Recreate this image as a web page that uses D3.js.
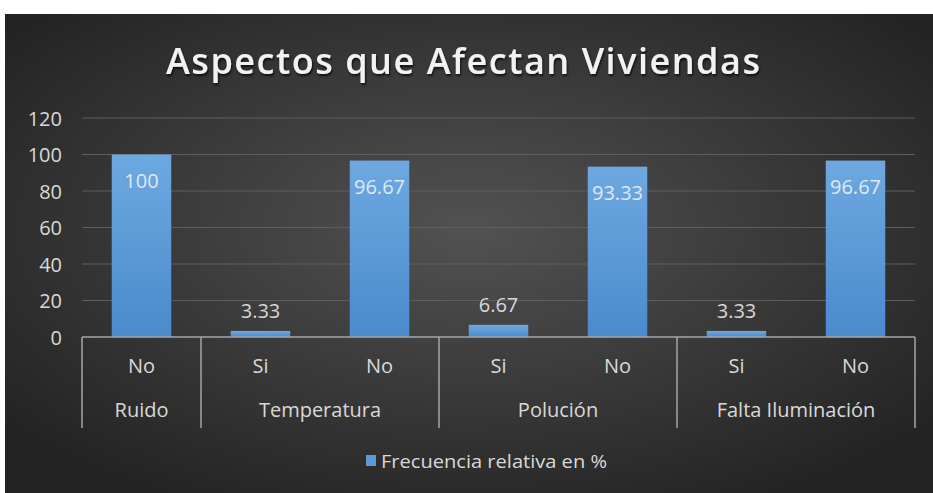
<!DOCTYPE html>
<html><head><meta charset="utf-8">
<script src="https://cdn.jsdelivr.net/npm/d3@7"></script>
<style>
html,body{margin:0;padding:0;background:#fff;}
svg{display:block;}
text{font-family:"Open Sans",sans-serif;}
</style></head>
<body>
<svg id="c" width="933" height="493"></svg>
<script>
(function(){
const title = "Aspectos que Afectan Viviendas";
const groups = ["Ruido","Temperatura","Polución","Falta Iluminación"];
const subLabels = ["No","Si","No","Si","No","Si","No"];
const groupIndex = [0,1,1,2,2,3,3];
const values = [100,3.33,96.67,6.67,93.33,3.33,96.67];
const valueLabels = ["100","3.33","96.67","6.67","93.33","3.33","96.67"];
const yTicks = [0,20,40,60,80,100,120];
const seriesName = "Frecuencia relativa en %";

const svg = d3.select("#c");
const defs = svg.append("defs");
const bg = defs.append("radialGradient").attr("id","bg").attr("cx","50%").attr("cy","45%").attr("r","65%");
bg.append("stop").attr("offset","0%").attr("stop-color","#525252");
bg.append("stop").attr("offset","100%").attr("stop-color","#232323");
const bar = defs.append("linearGradient").attr("id","bar").attr("x1",0).attr("y1",0).attr("x2",0).attr("y2",1);
bar.append("stop").attr("offset","0%").attr("stop-color","#6ea8e0");
bar.append("stop").attr("offset","100%").attr("stop-color","#4a8bcd");
const sh = defs.append("filter").attr("id","sh").attr("x","-5%").attr("y","-20%").attr("width","110%").attr("height","140%");
sh.append("feDropShadow").attr("dx",1).attr("dy",2).attr("stdDeviation",1.2).attr("flood-color","#000").attr("flood-opacity",0.7);

svg.append("rect").attr("x",5).attr("y",14).attr("width",928).attr("height",479).attr("fill","url(#bg)");

svg.append("text").attr("x",463).attr("y",74).attr("text-anchor","middle")
  .attr("font-size",36).attr("font-weight",600)
  .attr("fill","#f2f2f2").attr("filter","url(#sh)")
  .attr("textLength",594).attr("lengthAdjust","spacing").text(title);

const pl=82, pr=915, pt=118, pb=337;
const x = d3.scaleBand().domain(d3.range(values.length)).range([pl,pr]).padding(0);
const y = d3.scaleLinear().domain([0,120]).range([pb,pt]);

svg.append("g").selectAll("line").data(yTicks.filter(d=>d>0)).join("line")
  .attr("x1",pl).attr("x2",pr).attr("y1",d=>y(d)).attr("y2",d=>y(d))
  .attr("stroke","#5e5e5e").attr("stroke-width",1);

const ya = svg.append("g").attr("transform",`translate(${pl},0)`)
  .call(d3.axisLeft(y).tickValues(yTicks).tickSize(0).tickPadding(20));
ya.select(".domain").remove();
ya.selectAll("text").attr("fill","#d9d9d9").attr("font-size",20).attr("font-family","'Open Sans',sans-serif").attr("dy","0.36em");

const bw = x.bandwidth()*0.5;
svg.append("g").selectAll("rect").data(values).join("rect")
  .attr("x",(d,i)=>x(i)+(x.bandwidth()-bw)/2).attr("width",bw)
  .attr("y",d=>y(d)).attr("height",d=>y(0)-y(d)).attr("fill","url(#bar)");

svg.append("g").selectAll("text").data(values).join("text")
  .attr("x",(d,i)=>x(i)+x.bandwidth()/2)
  .attr("y",d=> d>50 ? y(d)+33 : y(d)-13)
  .attr("text-anchor","middle").attr("font-size",20)
  .attr("fill",d=> d>50 ? "#dfe9f5" : "#d9d9d9")
  .text((d,i)=>valueLabels[i]);

const ax = svg.append("g").attr("stroke","#a6a6a6").attr("stroke-width",1.5);
ax.append("line").attr("x1",pl).attr("x2",pr).attr("y1",pb).attr("y2",pb);
const boundaries = [0];
for(let i=1;i<groupIndex.length;i++){ if(groupIndex[i]!==groupIndex[i-1]) boundaries.push(i); }
const bx = boundaries.map(i=>x(i)).concat([pr]);
ax.selectAll("line.sep").data(bx).join("line").attr("class","sep")
  .attr("x1",d=>d).attr("x2",d=>d).attr("y1",pb).attr("y2",428);

svg.append("g").selectAll("text").data(subLabels).join("text")
  .attr("x",(d,i)=>x(i)+x.bandwidth()/2).attr("y",373)
  .attr("text-anchor","middle").attr("font-size",20).attr("fill","#d9d9d9").text(d=>d);

svg.append("g").selectAll("text").data(groups).join("text")
  .attr("x",(d,g)=>(bx[g]+bx[g+1])/2).attr("y",417)
  .attr("text-anchor","middle").attr("font-size",20).attr("fill","#d9d9d9").text(d=>d);

svg.append("rect").attr("x",366).attr("y",455).attr("width",10).attr("height",11).attr("fill","#5b9bd5");
svg.append("text").attr("x",381).attr("y",468).attr("font-size",19).attr("fill","#d9d9d9")
  .attr("textLength",226).attr("lengthAdjust","spacingAndGlyphs").text(seriesName);
})();
</script>
</body></html>
